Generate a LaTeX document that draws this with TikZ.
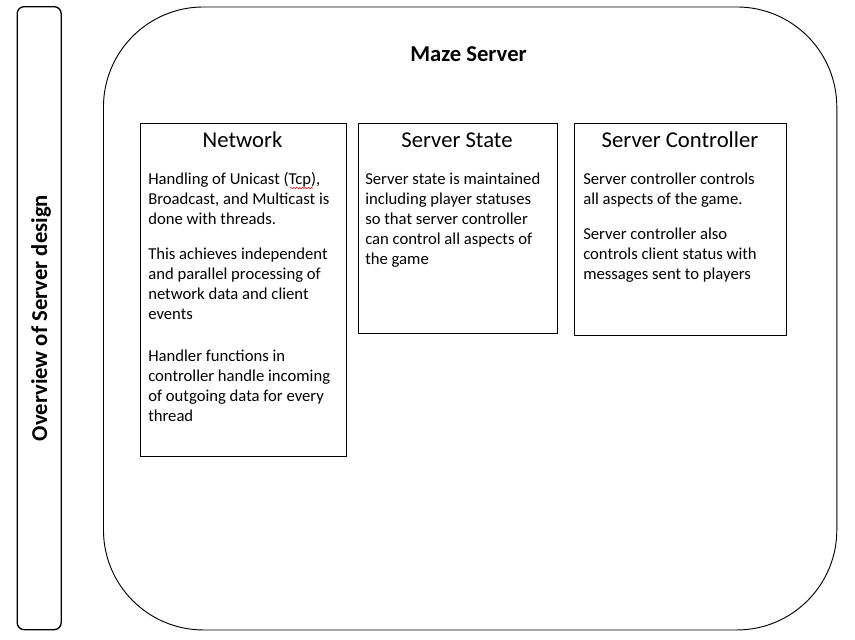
\documentclass[tikz,border=0pt]{standalone}
\usepackage{fontspec}
\setmainfont{Carlito}
\usetikzlibrary{decorations.pathmorphing}
\begin{document}
\begin{tikzpicture}[x=0.75pt,y=-0.75pt,
  box/.style={draw,line width=0.8pt,inner sep=0,anchor=north west},
  ttl/.style={font=\fontsize{17}{20}\selectfont,anchor=base,inner sep=0},
  body/.style={font=\fontsize{12.5}{15}\selectfont,anchor=base west,align=left,inner sep=0},
]
\useasboundingbox (0,0) rectangle (855,639);
\fill[white] (0,0) rectangle (855,639);
% side bar
\node[box,line width=1pt,rounded corners=5.25pt,minimum width=33pt,minimum height=467.25pt] (side) at (16.5,6) {};
\node[font=\bfseries\fontsize{17}{20}\selectfont,rotate=90,anchor=base,inner sep=0] (sideT) at (47,318) {Overview of Server design};
% main rounded box
\node[box,line width=0.7pt,rounded corners=75pt,minimum width=550pt,minimum height=467.25pt] (main) at (103,6.5) {};
\node[font=\bfseries\fontsize{17}{20}\selectfont,anchor=base,inner sep=0] (mainT) at (468.5,61) {Maze Server};
% boxes
\node[box,minimum width=154.5pt,minimum height=249.75pt] (net) at (139.5,122.5) {};
\node[box,minimum width=149.25pt,minimum height=157.9pt] (ss) at (357.5,122.5) {};
\node[box,minimum width=159pt,minimum height=159pt] (sc) at (574,122.5) {};
% titles
\node[ttl] (netT) at (242.5,147) {Network};
\node[ttl] (ssT) at (457,147) {Server State};
\node[ttl] (scT) at (680,147) {Server Controller};
% bodies (anchor at baseline of last line)
\node[body] (netA) at (148,224) {Handling of Unicast (Tcp),\\Broadcast, and Multicast is\\done with threads.};
\node[body] (netB) at (148,319) {This achieves independent\\and parallel processing of\\network data and client\\events};
\node[body] (netC) at (148,421) {Handler functions in\\controller handle incoming\\of outgoing data for every\\thread};
\node[body] (ssA) at (365,264) {Server state is maintained\\including player statuses\\so that server controller\\can control all aspects of\\the game};
\node[body] (scA) at (583,204) {Server controller controls\\all aspects of the game.};
\node[body] (scB) at (583,279) {Server controller also\\controls client status with\\messages sent to players};
% spell-check squiggle
\draw[red,line width=0.4pt,decorate,decoration={snake,amplitude=0.5pt,segment length=2.2pt}] (290,188) -- (313,188);
\end{tikzpicture}
\end{document}
